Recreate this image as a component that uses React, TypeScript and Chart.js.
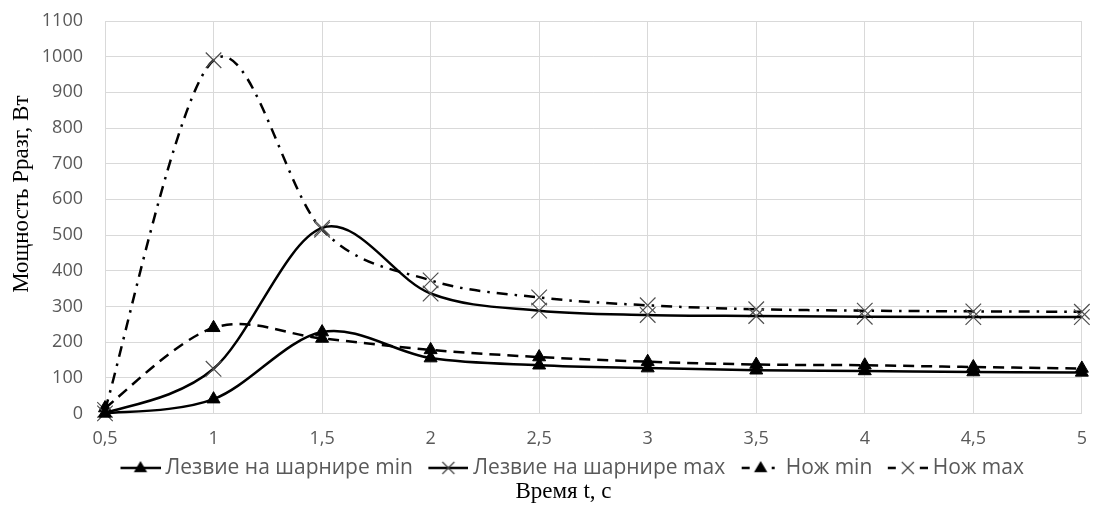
import React, { useEffect, useRef } from 'react';
import { Chart, registerables } from 'chart.js';

Chart.register(...registerables);

// ---- data ----
const timeValues = [0.5, 1, 1.5, 2, 2.5, 3, 3.5, 4, 4.5, 5];
const bladeMin = [0, 40, 228, 155, 135, 127, 121, 119, 116, 115];
const bladeMax = [0, 125, 520, 336, 288, 276, 273, 271, 270, 270];
const knifeMin = [15, 240, 210, 178, 158, 145, 137, 135, 130, 126];
const knifeMax = [10, 990, 515, 373, 325, 303, 292, 288, 286, 285];
const seriesNames = ['Лезвие на шарнире min', 'Лезвие на шарнире max', 'Нож min', 'Нож max'];
const xTitle = 'Время t, с';
const yTitle = 'Мощность Рразг, Вт';

type Kind = 'tri' | 'x';
type Dash = 'solid' | 'dash' | 'dashdot';

const BOX_W = 45;
const ICON_W = BOX_W + 11;

function makeIcon(kind: Kind, dash: Dash): HTMLCanvasElement {
  const c = document.createElement('canvas');
  c.width = ICON_W;
  c.height = 20;
  const ctx = c.getContext('2d')!;
  const s = ICON_W - 40; // symbol occupies the right 40px
  const mid = s + 20;
  ctx.strokeStyle = '#000';
  ctx.lineWidth = 2.5;
  const cy = 10;
  ctx.beginPath();
  if (dash === 'solid') {
    ctx.moveTo(s, cy);
    ctx.lineTo(s + 40, cy);
  } else if (dash === 'dash') {
    ctx.moveTo(s + 1, cy);
    ctx.lineTo(s + 9, cy);
    ctx.moveTo(s + 31, cy);
    ctx.lineTo(s + 34, cy);
  } else {
    ctx.moveTo(s, cy);
    ctx.lineTo(s + 8, cy);
    ctx.moveTo(s + 32, cy);
    ctx.lineTo(s + 40, cy);
  }
  ctx.stroke();
  if (kind === 'tri') {
    const r = 7;
    ctx.fillStyle = '#000';
    ctx.beginPath();
    ctx.moveTo(mid, cy - r);
    ctx.lineTo(mid + r * 0.95, cy + r * 0.6);
    ctx.lineTo(mid - r * 0.95, cy + r * 0.6);
    ctx.closePath();
    ctx.fill();
  } else {
    ctx.strokeStyle = '#404040';
    ctx.lineWidth = 1.2;
    ctx.beginPath();
    ctx.moveTo(mid - 6, cy - 6);
    ctx.lineTo(mid + 6, cy + 6);
    ctx.moveTo(mid + 6, cy - 6);
    ctx.lineTo(mid - 6, cy + 6);
    ctx.stroke();
  }
  return c;
}

function toPoints(values: number[]) {
  return timeValues.map((x, i) => ({ x, y: values[i] }));
}

// Excel-like smoothing: uniform Catmull-Rom control points on the scaled points
const smoothPlugin = {
  id: 'excelSmooth',
  beforeDatasetDraw(chart: any, args: any) {
    const meta = args.meta;
    const line = meta.dataset;
    const pts = meta.data;
    if (!line || !pts || pts.length < 2) return;
    const n = pts.length;
    for (let i = 0; i < n; i++) {
      const p = pts[i];
      const prev = pts[i - 1] || p;
      const next = pts[i + 1] || p;
      const dx = (next.x - prev.x) / 6;
      const dy = (next.y - prev.y) / 6;
      p.cp1x = p.x - dx;
      p.cp1y = p.y - dy;
      p.cp2x = p.x + dx;
      p.cp2y = p.y + dy;
    }
    line._pointsUpdated = true;
    line._path = undefined;
  },
};

export default function App() {
  const ref = useRef<HTMLCanvasElement>(null);

  useEffect(() => {
    const canvas = ref.current!;
    const icons = [
      makeIcon('tri', 'solid'),
      makeIcon('x', 'solid'),
      makeIcon('tri', 'dash'),
      makeIcon('x', 'dashdot'),
    ];
    const common = {
      borderColor: '#000',
      borderWidth: 2.5,
      tension: 0.4,
      fill: false,
      clip: 20,
    };
    const tri = {
      pointStyle: 'triangle',
      pointRadius: 7.5,
      pointBackgroundColor: '#000',
      pointBorderColor: '#000',
      pointBorderWidth: 1,
    };
    const cross = {
      pointStyle: 'crossRot',
      pointRadius: 11,
      pointBackgroundColor: 'transparent',
      pointBorderColor: '#505050',
      pointBorderWidth: 1.2,
    };
    const tickFont = { family: 'Open Sans', size: 18 };
    const chart = new Chart(canvas, {
      type: 'line',
      plugins: [smoothPlugin],
      data: {
        datasets: [
          { label: seriesNames[0], data: toPoints(bladeMin), ...common, ...tri, borderDash: [] },
          { label: seriesNames[1], data: toPoints(bladeMax), ...common, ...cross, borderDash: [] },
          { label: seriesNames[2], data: toPoints(knifeMin), ...common, ...tri, borderDash: [11, 7] },
          { label: seriesNames[3], data: toPoints(knifeMax), ...common, ...cross, borderDash: [11, 7, 2.5, 7] },
        ] as any,
      },
      options: {
        animation: false,
        responsive: true,
        maintainAspectRatio: false,
        layout: { padding: { left: 32, right: 7, top: 21, bottom: 0 } },
        scales: {
          x: {
            type: 'linear',
            min: 0.5,
            max: 5,
            ticks: {
              stepSize: 0.5,
              autoSkip: false,
              maxRotation: 0,
              callback: (v: any) => String(v).replace('.', ','),
              font: tickFont,
              color: '#595959',
              padding: 15,
            },
            grid: { color: '#d9d9d9', drawTicks: false, lineWidth: 1 },
            border: { color: '#d9d9d9' },
            afterFit: (s: any) => {
              s.height = 39;
            },
          },
          y: {
            min: 0,
            max: 1100,
            ticks: {
              stepSize: 100,
              callback: (v: any) => String(v),
              font: tickFont,
              color: '#595959',
              padding: 22,
            },
            grid: { color: '#d9d9d9', drawTicks: false, lineWidth: 1 },
            border: { color: '#d9d9d9' },
            title: {
              display: true,
              text: '\u00a0'.repeat(8) + yTitle,
              color: '#000',
              font: { family: 'Liberation Serif', size: 23 },
              padding: { top: -24, bottom: 0 },
            },
            afterFit: (s: any) => {
              s.width = 73;
              s.paddingTop = 0;
              s.paddingBottom = 0;
            },
          },
        },
        plugins: {
          tooltip: { enabled: false },
          legend: {
            position: 'bottom',
            align: 'start',
            fullSize: false,
            maxHeight: 26,
            labels: {
              usePointStyle: true,
              pointStyleWidth: BOX_W,
              padding: 5,
              color: '#595959',
              font: { family: 'Open Sans', size: 21 },
              generateLabels: (ch: any) => {
                const items = Chart.defaults.plugins.legend.labels.generateLabels(ch);
                return items.map((it: any, i: number) => ({ ...it, pointStyle: icons[i] }));
              },
            },
          },
          title: {
            display: true,
            position: 'bottom',
            text: xTitle,
            color: '#000',
            font: { family: 'Liberation Serif', size: 23, weight: 'normal' },
            padding: { top: 0, bottom: 0 },
          },
        },
      } as any,
    });
    return () => chart.destroy();
  }, []);

  return (
    <div style={{ position: 'absolute', left: 0, top: 0, width: 1102, height: 506 }}>
      <canvas ref={ref} />
    </div>
  );
}
